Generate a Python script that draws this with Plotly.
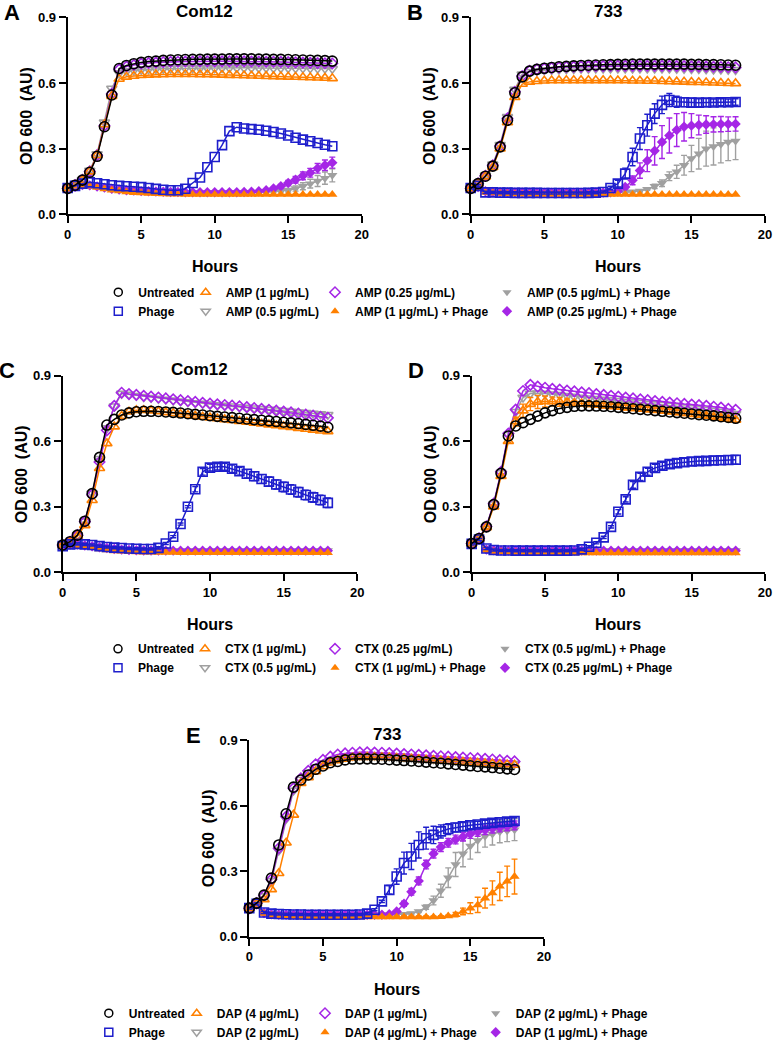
import plotly.graph_objects as go

# ---------------- data ----------------
T = [0, 0.5, 1, 1.5, 2, 2.5, 3, 3.5, 4, 4.5, 5, 5.5, 6, 6.5, 7, 7.5, 8, 8.5, 9,
     9.5, 10, 10.5, 11, 11.5, 12, 12.5, 13, 13.5, 14, 14.5, 15, 15.5, 16, 16.5, 17, 17.5, 18]
X_TICKS = [0, 5, 10, 15, 20]
Y_TICKS = [0, 0.3, 0.6, 0.9]
Y_TICK_LABELS = ["0.0", "0.3", "0.6", "0.9"]

PANEL_LETTERS = ["A", "B", "C", "D", "E"]
PANEL_TITLES = ["Com12", "733", "Com12", "733", "733"]
DRUGS = ["AMP", "AMP", "CTX", "CTX", "DAP"]
HIGH_DOSE = ["1", "1", "1", "1", "4"]
MID_DOSE = ["0.5", "0.5", "0.5", "0.5", "2"]
LOW_DOSE = ["0.25", "0.25", "0.25", "0.25", "1"]

# Panel A (Com12, AMP)
A_UNT = [0.118,0.133,0.156,0.192,0.265,0.400,0.545,0.666,0.680,
         0.688,0.694,0.698,0.700,0.703,0.705,0.706,0.707,0.708,
         0.708,0.709,0.709,0.709,0.710,0.710,0.710,0.710,0.709,
         0.709,0.708,0.708,0.707,0.706,0.705,0.704,0.703,0.702,0.700]
A_HIGH = [0.118,0.133,0.156,0.195,0.270,0.410,0.540,0.618,0.628,
          0.632,0.635,0.637,0.638,0.639,0.640,0.640,0.640,0.640,
          0.639,0.639,0.638,0.637,0.636,0.635,0.634,0.633,0.632,
          0.631,0.630,0.629,0.628,0.627,0.626,0.625,0.624,0.623,0.621]
A_MID = [0.118,0.134,0.158,0.200,0.275,0.420,0.575,0.645,0.654,
         0.658,0.661,0.663,0.664,0.665,0.666,0.667,0.667,0.668,
         0.668,0.668,0.668,0.669,0.669,0.669,0.669,0.669,0.669,
         0.669,0.668,0.668,0.668,0.667,0.667,0.667,0.666,0.666,0.665]
A_LOW = [0.118,0.133,0.157,0.196,0.270,0.405,0.550,0.662,0.675,
         0.682,0.688,0.691,0.693,0.695,0.696,0.697,0.698,0.698,
         0.699,0.699,0.699,0.699,0.699,0.699,0.699,0.698,0.698,
         0.697,0.697,0.696,0.695,0.694,0.693,0.692,0.691,0.690,0.689]
A_PHAGE = [0.120,0.130,0.140,0.146,0.142,0.137,0.133,0.130,0.128,
           0.126,0.124,0.120,0.116,0.112,0.110,0.110,0.117,0.143,
           0.168,0.215,0.262,0.316,0.380,0.398,0.392,0.389,0.386,
           0.382,0.376,0.369,0.360,0.350,0.341,0.334,0.326,0.318,0.311]
A_HIGHP = [0.118,0.125,0.130,0.128,0.122,0.116,0.110,0.106,0.102,
           0.099,0.097,0.095,0.094,0.093,0.092,0.092,0.091,0.091,
           0.091,0.090,0.090,0.090,0.090,0.090,0.090,0.090,0.090,
           0.090,0.090,0.090,0.090,0.090,0.090,0.090,0.090,0.090,0.090]
A_MIDP = [0.118,0.126,0.133,0.131,0.126,0.121,0.116,0.112,0.110,
          0.108,0.106,0.105,0.104,0.103,0.102,0.102,0.101,0.101,
          0.100,0.100,0.100,0.100,0.100,0.100,0.100,0.100,0.101,
          0.102,0.104,0.106,0.110,0.118,0.128,0.140,0.152,0.165,0.178]
A_LOWP = [0.118,0.126,0.134,0.132,0.127,0.122,0.117,0.113,0.110,
          0.108,0.106,0.105,0.104,0.103,0.102,0.102,0.101,0.101,
          0.101,0.101,0.101,0.101,0.101,0.101,0.102,0.103,0.105,
          0.110,0.118,0.128,0.143,0.158,0.176,0.190,0.210,0.224,0.236]
A_MIDP_SD = [0.004,0.004,0.004,0.004,0.004,0.004,0.004,0.004,0.004,
             0.004,0.004,0.004,0.004,0.004,0.004,0.004,0.004,0.004,
             0.004,0.004,0.004,0.004,0.004,0.004,0.004,0.004,0.004,
             0.004,0.004,0.004,0.008,0.012,0.016,0.020,0.025,0.028,0.030]
A_LOWP_SD = [0.004,0.004,0.004,0.004,0.004,0.004,0.004,0.004,0.004,
             0.004,0.004,0.004,0.004,0.004,0.004,0.004,0.004,0.004,
             0.004,0.004,0.004,0.004,0.004,0.004,0.004,0.004,0.004,
             0.004,0.004,0.008,0.012,0.015,0.018,0.020,0.022,0.024,0.025]

# Panel B (733, AMP)
B_UNT = [0.118,0.140,0.174,0.220,0.308,0.430,0.555,0.628,0.654,
         0.662,0.667,0.671,0.674,0.676,0.678,0.680,0.681,0.682,
         0.683,0.684,0.685,0.685,0.686,0.686,0.686,0.686,0.686,
         0.686,0.686,0.686,0.685,0.685,0.684,0.684,0.683,0.682,0.681]
B_HIGH = [0.118,0.140,0.172,0.215,0.300,0.420,0.535,0.595,0.605,
          0.608,0.610,0.611,0.612,0.612,0.612,0.612,0.612,0.612,
          0.612,0.612,0.611,0.611,0.610,0.610,0.609,0.609,0.608,
          0.607,0.606,0.605,0.604,0.603,0.602,0.601,0.600,0.599,0.598]
B_MID = [0.118,0.142,0.178,0.228,0.318,0.445,0.570,0.640,0.650,
         0.655,0.658,0.660,0.662,0.663,0.664,0.665,0.665,0.666,
         0.666,0.666,0.666,0.666,0.666,0.666,0.666,0.666,0.666,
         0.666,0.665,0.665,0.664,0.664,0.663,0.662,0.662,0.661,0.660]
B_LOW = [0.118,0.141,0.176,0.224,0.312,0.438,0.560,0.632,0.655,
         0.662,0.666,0.669,0.671,0.673,0.674,0.675,0.676,0.677,
         0.677,0.678,0.678,0.678,0.678,0.678,0.678,0.678,0.678,
         0.678,0.677,0.677,0.676,0.676,0.675,0.674,0.673,0.672,0.671]
B_PHAGE = [0.120,0.130,0.100,0.100,0.099,0.099,0.098,0.098,0.098,
           0.098,0.097,0.097,0.097,0.097,0.097,0.097,0.098,0.099,
           0.102,0.120,0.140,0.186,0.262,0.346,0.407,0.460,0.500,
           0.522,0.514,0.512,0.510,0.510,0.511,0.511,0.512,0.512,0.513]
B_HIGHP = [0.118,0.122,0.100,0.097,0.095,0.094,0.093,0.092,0.092,
           0.091,0.091,0.091,0.090,0.090,0.090,0.090,0.090,0.090,
           0.090,0.090,0.090,0.090,0.090,0.090,0.090,0.090,0.090,
           0.090,0.090,0.090,0.090,0.090,0.090,0.090,0.090,0.090,0.090]
B_MIDP = [0.118,0.125,0.105,0.102,0.101,0.100,0.100,0.100,0.099,
          0.099,0.099,0.099,0.099,0.099,0.099,0.099,0.099,0.099,
          0.099,0.099,0.100,0.101,0.103,0.107,0.115,0.128,0.142,
          0.174,0.194,0.224,0.255,0.277,0.300,0.310,0.320,0.330,0.335]
B_LOWP = [0.118,0.125,0.105,0.102,0.101,0.100,0.100,0.100,0.099,
          0.099,0.099,0.099,0.099,0.099,0.099,0.099,0.099,0.099,
          0.099,0.100,0.105,0.125,0.155,0.200,0.245,0.290,0.330,
          0.360,0.385,0.400,0.405,0.408,0.410,0.411,0.412,0.412,0.413]
B_PHAGE_SD = [0.005,0.005,0.005,0.005,0.005,0.005,0.005,0.005,0.005,
              0.005,0.005,0.005,0.005,0.005,0.005,0.005,0.005,0.005,
              0.005,0.008,0.015,0.025,0.040,0.050,0.050,0.045,0.040,
              0.030,0.025,0.020,0.020,0.018,0.018,0.016,0.016,0.015,0.015]
B_MIDP_SD = [0.005,0.005,0.005,0.005,0.005,0.005,0.005,0.005,0.005,
             0.005,0.005,0.005,0.005,0.005,0.005,0.005,0.005,0.005,
             0.005,0.005,0.005,0.005,0.005,0.005,0.005,0.010,0.015,
             0.020,0.030,0.045,0.060,0.070,0.080,0.085,0.085,0.085,0.085]
B_LOWP_SD = [0.005,0.005,0.005,0.005,0.005,0.005,0.005,0.005,0.005,
             0.005,0.005,0.005,0.005,0.005,0.005,0.005,0.005,0.005,
             0.005,0.005,0.005,0.010,0.020,0.035,0.050,0.065,0.075,
             0.080,0.075,0.065,0.055,0.045,0.040,0.035,0.035,0.033,0.033]

# Panel C (Com12, CTX)
C_UNT = [0.125,0.140,0.170,0.234,0.360,0.526,0.674,0.700,0.720,
         0.730,0.735,0.737,0.737,0.736,0.734,0.732,0.729,0.726,
         0.723,0.720,0.717,0.714,0.711,0.708,0.705,0.702,0.699,
         0.696,0.693,0.690,0.687,0.684,0.681,0.677,0.673,0.669,0.664]
C_HIGH = [0.125,0.138,0.165,0.215,0.330,0.476,0.590,0.667,0.715,
          0.735,0.742,0.742,0.740,0.736,0.732,0.728,0.724,0.720,
          0.716,0.712,0.708,0.704,0.700,0.696,0.692,0.688,0.684,
          0.680,0.676,0.672,0.668,0.664,0.660,0.656,0.652,0.648,0.645]
C_MID = [0.125,0.140,0.170,0.234,0.362,0.520,0.660,0.760,0.818,
         0.814,0.808,0.803,0.799,0.795,0.791,0.787,0.783,0.779,
         0.775,0.772,0.769,0.766,0.763,0.760,0.757,0.754,0.751,
         0.748,0.745,0.742,0.739,0.736,0.733,0.730,0.727,0.724,0.721]
C_LOW = [0.125,0.140,0.170,0.232,0.355,0.505,0.650,0.762,0.822,
         0.816,0.812,0.808,0.804,0.800,0.796,0.792,0.788,0.784,
         0.780,0.776,0.772,0.769,0.766,0.763,0.760,0.756,0.752,
         0.748,0.744,0.740,0.736,0.732,0.727,0.722,0.717,0.712,0.707]
C_PHAGE = [0.120,0.128,0.130,0.128,0.125,0.120,0.116,0.113,0.111,
           0.109,0.108,0.107,0.107,0.112,0.132,0.163,0.221,0.300,
           0.380,0.460,0.479,0.483,0.483,0.474,0.463,0.451,0.440,
           0.427,0.415,0.402,0.391,0.379,0.367,0.354,0.343,0.331,0.318]
C_HIGHP = [0.120,0.125,0.122,0.117,0.112,0.107,0.102,0.098,0.096,
           0.094,0.093,0.092,0.092,0.091,0.091,0.091,0.090,0.090,
           0.090,0.090,0.090,0.090,0.090,0.090,0.090,0.090,0.090,
           0.090,0.090,0.090,0.090,0.090,0.090,0.090,0.090,0.090,0.090]
C_MIDP = [0.120,0.128,0.128,0.124,0.120,0.116,0.112,0.108,0.105,
          0.103,0.102,0.101,0.101,0.100,0.100,0.100,0.100,0.100,
          0.100,0.100,0.100,0.100,0.100,0.100,0.100,0.100,0.100,
          0.100,0.100,0.100,0.100,0.100,0.100,0.100,0.100,0.100,0.100]
C_LOWP = [0.120,0.127,0.127,0.123,0.119,0.115,0.111,0.107,0.104,
          0.102,0.101,0.100,0.100,0.099,0.099,0.099,0.099,0.099,
          0.099,0.099,0.099,0.099,0.099,0.099,0.099,0.099,0.099,
          0.099,0.099,0.099,0.099,0.099,0.099,0.099,0.099,0.099,0.099]
C_PHAGE_SD = [0.005,0.005,0.005,0.005,0.005,0.005,0.005,0.005,0.005,
              0.005,0.005,0.005,0.005,0.005,0.005,0.005,0.005,0.005,
              0.012,0.015,0.015,0.015,0.016,0.017,0.018,0.019,0.020,
              0.020,0.021,0.021,0.022,0.022,0.022,0.022,0.022,0.022,0.022]

# Panel D (733, CTX)
D_UNT = [0.132,0.155,0.208,0.310,0.453,0.624,0.670,0.685,0.700,
         0.715,0.730,0.740,0.750,0.755,0.760,0.762,0.762,0.761,
         0.760,0.758,0.755,0.752,0.749,0.746,0.743,0.740,0.737,
         0.734,0.731,0.728,0.725,0.722,0.719,0.716,0.712,0.709,0.705]
D_HIGH = [0.132,0.153,0.205,0.300,0.440,0.600,0.690,0.740,0.770,
          0.780,0.782,0.782,0.780,0.778,0.775,0.772,0.769,0.766,
          0.763,0.760,0.757,0.754,0.751,0.748,0.745,0.742,0.739,
          0.736,0.732,0.728,0.724,0.720,0.716,0.712,0.707,0.702,0.697]
D_MID = [0.132,0.155,0.208,0.312,0.455,0.630,0.735,0.800,0.818,
         0.820,0.818,0.815,0.812,0.808,0.804,0.800,0.797,0.794,
         0.791,0.788,0.785,0.782,0.779,0.776,0.773,0.770,0.767,
         0.764,0.760,0.756,0.752,0.748,0.744,0.740,0.736,0.731,0.726]
D_LOW = [0.132,0.156,0.210,0.315,0.460,0.635,0.745,0.830,0.858,
         0.850,0.845,0.840,0.836,0.832,0.828,0.824,0.820,0.816,
         0.812,0.808,0.804,0.800,0.796,0.792,0.788,0.784,0.780,
         0.777,0.774,0.771,0.768,0.765,0.762,0.758,0.754,0.748,0.744]
D_PHAGE = [0.130,0.150,0.109,0.102,0.100,0.100,0.099,0.099,0.099,
           0.099,0.099,0.099,0.099,0.099,0.100,0.105,0.117,0.135,
           0.160,0.208,0.277,0.334,0.400,0.437,0.460,0.478,0.488,
           0.495,0.500,0.504,0.507,0.509,0.510,0.512,0.513,0.514,0.515]
D_HIGHP = [0.132,0.148,0.100,0.095,0.093,0.092,0.091,0.090,0.090,
           0.089,0.089,0.089,0.089,0.088,0.088,0.088,0.088,0.088,
           0.088,0.088,0.088,0.088,0.088,0.088,0.088,0.088,0.088,
           0.088,0.088,0.088,0.088,0.088,0.088,0.088,0.088,0.088,0.088]
D_MIDP = [0.132,0.150,0.105,0.102,0.101,0.100,0.100,0.100,0.100,
          0.100,0.100,0.100,0.100,0.100,0.100,0.100,0.100,0.100,
          0.100,0.100,0.100,0.100,0.100,0.100,0.100,0.100,0.100,
          0.100,0.100,0.100,0.100,0.100,0.100,0.100,0.100,0.100,0.100]
D_LOWP = [0.132,0.150,0.104,0.101,0.100,0.099,0.099,0.099,0.099,
          0.099,0.099,0.099,0.099,0.099,0.099,0.099,0.099,0.099,
          0.099,0.099,0.099,0.099,0.099,0.099,0.099,0.099,0.099,
          0.099,0.099,0.099,0.099,0.099,0.099,0.099,0.099,0.099,0.099]
D_PHAGE_SD = [0.005,0.005,0.005,0.005,0.005,0.005,0.005,0.005,0.005,
              0.005,0.005,0.005,0.005,0.005,0.005,0.005,0.005,0.005,
              0.005,0.005,0.010,0.012,0.015,0.016,0.016,0.016,0.016,
              0.017,0.017,0.018,0.018,0.018,0.018,0.019,0.019,0.020,0.020]
D_HIGH_SD = [0.005,0.005,0.005,0.005,0.005,0.005,0.020,0.030,0.030,
             0.030,0.025,0.020,0.020,0.015,0.010,0.010,0.010,0.010,
             0.010,0.010,0.010,0.010,0.010,0.010,0.010,0.010,0.010,
             0.010,0.010,0.010,0.010,0.010,0.010,0.010,0.010,0.010,0.010]

# Panel E (733, DAP)
E_UNT = [0.130,0.153,0.190,0.268,0.420,0.563,0.685,0.718,0.741,
         0.767,0.782,0.797,0.803,0.810,0.814,0.815,0.815,0.814,
         0.813,0.811,0.809,0.807,0.805,0.803,0.800,0.797,0.795,
         0.792,0.789,0.786,0.783,0.780,0.778,0.775,0.772,0.769,0.766]
E_HIGH = [0.130,0.150,0.170,0.216,0.290,0.430,0.558,0.703,0.730,
          0.757,0.780,0.797,0.808,0.815,0.820,0.822,0.823,0.823,
          0.822,0.821,0.819,0.817,0.815,0.813,0.811,0.809,0.807,
          0.805,0.803,0.801,0.799,0.797,0.795,0.793,0.791,0.789,0.787]
E_MID = [0.130,0.152,0.185,0.255,0.395,0.540,0.670,0.720,0.750,
         0.775,0.795,0.808,0.818,0.824,0.828,0.830,0.830,0.829,
         0.828,0.826,0.824,0.822,0.820,0.818,0.816,0.814,0.812,
         0.810,0.808,0.806,0.804,0.802,0.800,0.798,0.796,0.794,0.792]
E_LOW = [0.130,0.153,0.188,0.262,0.405,0.550,0.680,0.725,0.760,
         0.790,0.810,0.825,0.835,0.840,0.843,0.845,0.845,0.844,
         0.843,0.841,0.839,0.837,0.835,0.833,0.831,0.829,0.827,
         0.825,0.823,0.821,0.819,0.817,0.815,0.812,0.809,0.806,0.803]
E_PHAGE = [0.130,0.150,0.110,0.105,0.103,0.102,0.101,0.101,0.100,
           0.100,0.100,0.100,0.100,0.100,0.100,0.101,0.105,0.123,
           0.161,0.214,0.275,0.337,0.367,0.420,0.451,0.466,0.482,
           0.493,0.500,0.505,0.510,0.514,0.518,0.521,0.524,0.527,0.530]
E_HIGHP = [0.130,0.140,0.105,0.097,0.094,0.092,0.091,0.090,0.090,
           0.090,0.090,0.090,0.090,0.090,0.090,0.090,0.090,0.090,
           0.090,0.090,0.090,0.090,0.090,0.090,0.090,0.090,0.091,
           0.094,0.100,0.115,0.130,0.145,0.176,0.200,0.230,0.253,0.275]
E_MIDP = [0.130,0.148,0.108,0.102,0.100,0.100,0.100,0.100,0.100,
          0.100,0.100,0.100,0.100,0.100,0.100,0.100,0.100,0.100,
          0.100,0.100,0.100,0.102,0.105,0.115,0.135,0.165,0.210,
          0.270,0.330,0.380,0.415,0.440,0.460,0.470,0.480,0.485,0.490]
E_LOWP = [0.130,0.148,0.108,0.102,0.100,0.100,0.100,0.100,0.100,
          0.100,0.100,0.100,0.100,0.100,0.100,0.100,0.100,0.100,
          0.100,0.102,0.115,0.150,0.205,0.255,0.330,0.380,0.410,
          0.430,0.445,0.458,0.470,0.480,0.488,0.495,0.500,0.505,0.510]
E_PHAGE_SD = [0.005,0.005,0.005,0.005,0.005,0.005,0.005,0.005,0.005,
              0.005,0.005,0.005,0.005,0.005,0.005,0.005,0.005,0.005,
              0.005,0.020,0.035,0.050,0.060,0.060,0.050,0.040,0.030,
              0.025,0.020,0.018,0.016,0.015,0.015,0.015,0.015,0.015,0.015]
E_HIGHP_SD = [0.004,0.004,0.004,0.004,0.004,0.004,0.004,0.004,0.004,
              0.004,0.004,0.004,0.004,0.004,0.004,0.004,0.004,0.004,
              0.004,0.004,0.004,0.004,0.004,0.004,0.004,0.004,0.004,
              0.004,0.010,0.015,0.025,0.035,0.045,0.055,0.065,0.070,0.080]
E_MIDP_SD = [0.005,0.005,0.005,0.005,0.005,0.005,0.005,0.005,0.005,
             0.005,0.005,0.005,0.005,0.005,0.005,0.005,0.005,0.005,
             0.005,0.005,0.005,0.005,0.005,0.005,0.010,0.020,0.030,
             0.045,0.055,0.060,0.060,0.055,0.050,0.050,0.050,0.050,0.050]
E_LOWP_SD = [0.005,0.005,0.005,0.005,0.005,0.005,0.005,0.005,0.005,
             0.005,0.005,0.005,0.005,0.005,0.005,0.005,0.005,0.005,
             0.005,0.005,0.005,0.012,0.015,0.018,0.020,0.020,0.020,
             0.020,0.020,0.020,0.020,0.020,0.020,0.020,0.020,0.020,0.020]

PANELS = [
    dict(unt=A_UNT, phage=A_PHAGE, high=A_HIGH, mid=A_MID, low=A_LOW,
         highp=A_HIGHP, midp=A_MIDP, lowp=A_LOWP),
    dict(unt=B_UNT, phage=B_PHAGE, high=B_HIGH, mid=B_MID, low=B_LOW,
         highp=B_HIGHP, midp=B_MIDP, lowp=B_LOWP),
    dict(unt=C_UNT, phage=C_PHAGE, high=C_HIGH, mid=C_MID, low=C_LOW,
         highp=C_HIGHP, midp=C_MIDP, lowp=C_LOWP),
    dict(unt=D_UNT, phage=D_PHAGE, high=D_HIGH, mid=D_MID, low=D_LOW,
         highp=D_HIGHP, midp=D_MIDP, lowp=D_LOWP),
    dict(unt=E_UNT, phage=E_PHAGE, high=E_HIGH, mid=E_MID, low=E_LOW,
         highp=E_HIGHP, midp=E_MIDP, lowp=E_LOWP),
]
ERRORS = [
    dict(midp=A_MIDP_SD, lowp=A_LOWP_SD),
    dict(phage=B_PHAGE_SD, midp=B_MIDP_SD, lowp=B_LOWP_SD),
    dict(phage=C_PHAGE_SD),
    dict(phage=D_PHAGE_SD, high=D_HIGH_SD),
    dict(phage=E_PHAGE_SD, highp=E_HIGHP_SD, midp=E_MIDP_SD, lowp=E_LOWP_SD),
]

# ---------------- styling ----------------
W, H = 776, 1042
FONT = "Liberation Sans, Arial, sans-serif"
BLACK, BLUE, ORANGE, GRAY, PURPLE = "#000000", "#1E1ECC", "#FF8000", "#A0A0A0", "#A526E6"
STYLE = {
    "unt":   dict(color=BLACK, symbol="circle-open", size=10),
    "phage": dict(color=BLUE, symbol="square-open", size=9),
    "high":  dict(color=ORANGE, symbol="triangle-up-open", size=9),
    "mid":   dict(color=GRAY, symbol="triangle-down-open", size=9),
    "low":   dict(color=PURPLE, symbol="diamond-open", size=8),
    "highp": dict(color=ORANGE, symbol="triangle-up", size=9),
    "midp":  dict(color=GRAY, symbol="triangle-down", size=9),
    "lowp":  dict(color=PURPLE, symbol="diamond", size=8),
}
DRAW_ORDER = ["midp", "lowp", "highp", "mid", "low", "high", "phage", "unt"]
LEGEND_ORDER = ["unt", "phage", "high", "mid", "low", "highp", "midp", "lowp"]
LEGEND_COL = {"unt": (0, 1), "phage": (0, 2), "high": (1, 1), "mid": (1, 2),
              "low": (2, 1), "highp": (2, 2), "midp": (3, 1), "lowp": (3, 2)}
# panel boxes in window pixels: left, right, top, bottom
BOX = [(67.7, 361.7, 17.3, 214.3), (470.7, 765.0, 17.3, 214.3),
       (62.7, 357.3, 375.7, 572.3), (471.7, 765.0, 375.7, 572.3),
       (249.3, 544.0, 740.3, 936.5)]
# legend block per figure row: (panel owning legend, text start px per column, first-row y px)
LEGEND_ROWS = [(0, [133.3, 220.7, 350.0, 522.0], 291.7),
               (2, [133.0, 220.0, 350.0, 520.0], 648.3),
               (4, [123.8, 211.7, 340.0, 510.7], 1012.7)]


def fx(px):
    return px / W


def fy(py):
    return 1 - py / H


def series_name(key, p):
    if key == "unt":
        return "Untreated"
    if key == "phage":
        return "Phage"
    dose = {"high": HIGH_DOSE, "mid": MID_DOSE, "low": LOW_DOSE,
            "highp": HIGH_DOSE, "midp": MID_DOSE, "lowp": LOW_DOSE}[key][p]
    name = f"{DRUGS[p]} ({dose} µg/mL)"
    if key in ("highp", "midp", "lowp"):
        name += " + Phage"
    return name


fig = go.Figure()

for p in range(5):
    ax = "" if p == 0 else str(p + 1)
    for key in DRAW_ORDER:
        st = STYLE[key]
        filled = not st["symbol"].endswith("open")
        err = ERRORS[p].get(key)
        tr = dict(
            x=T, y=PANELS[p][key], mode="lines+markers",
            name=series_name(key, p),
            xaxis="x" + ax, yaxis="y" + ax,
            line=dict(color=st["color"], width=1.5),
            marker=dict(symbol=st["symbol"], size=st["size"], color=st["color"],
                        line=dict(color=st["color"], width=0 if filled else 1.6)),
            cliponaxis=False, showlegend=False,
        )
        if err is not None:
            tr["error_y"] = dict(type="data", array=err, visible=True,
                                 color=st["color"], thickness=1.4, width=3)
        fig.add_trace(go.Scatter(**tr))

# legend entries (marker keys only, 4 columns x 2 rows per figure row)
for li, (p, cols, y0) in enumerate(LEGEND_ROWS):
    ax = "" if p == 0 else str(p + 1)
    for key in LEGEND_ORDER:
        st = STYLE[key]
        col, rank = LEGEND_COL[key]
        idx = li * 4 + col + 1
        filled = not st["symbol"].endswith("open")
        fig.add_trace(go.Scatter(
            x=[None], y=[None], mode="markers", name=series_name(key, p),
            xaxis="x" + ax, yaxis="y" + ax,
            marker=dict(symbol=st["symbol"], size=8, color=st["color"],
                        line=dict(color=st["color"], width=0 if filled else 1.5)),
            legend="legend" if idx == 1 else f"legend{idx}", legendrank=rank,
            showlegend=True,
        ))

layout = dict(
    width=W, height=H, margin=dict(l=0, r=0, t=0, b=0, autoexpand=False),
    paper_bgcolor="white", plot_bgcolor="white",
    font=dict(family=FONT, color="black", weight="bold"),
    annotations=[],
)
axis_common = dict(showline=True, linewidth=2, linecolor="black", ticks="outside",
                   ticklen=7, tickwidth=2, tickcolor="black", showgrid=False, zeroline=False,
                   tickfont=dict(family=FONT, size=13, color="black", weight="bold"))
for p in range(5):
    l, r, t, b = BOX[p]
    ax = "" if p == 0 else str(p + 1)
    layout["xaxis" + ax] = dict(axis_common, domain=[fx(l), fx(r)], range=[0, 20],
                                tickvals=X_TICKS, anchor="y" + ax)
    layout["yaxis" + ax] = dict(axis_common, domain=[fy(b), fy(t)], range=[0, 0.9],
                                tickvals=Y_TICKS, ticktext=Y_TICK_LABELS, anchor="x" + ax)
    cx = (l + r) / 2
    cy = (t + b) / 2
    ann = layout["annotations"]
    ann.append(dict(text=PANEL_LETTERS[p], x=fx(l - 56), y=fy(t - 5), xref="paper", yref="paper",
                    showarrow=False, xanchor="center", yanchor="middle",
                    font=dict(family=FONT, size=22, weight="bold")))
    ann.append(dict(text=PANEL_TITLES[p], x=fx(cx - 10), y=fy(t - 6), xref="paper", yref="paper",
                    showarrow=False, xanchor="center", yanchor="middle",
                    font=dict(family=FONT, size=17, weight="bold")))
    ann.append(dict(text="Hours", x=fx(cx), y=fy(b + 52.5), xref="paper", yref="paper",
                    showarrow=False, xanchor="center", yanchor="middle",
                    font=dict(family=FONT, size=16, weight="bold")))
    ann.append(dict(text="OD 600  (AU)", x=fx(l - 40.5), y=fy(cy), xref="paper", yref="paper",
                    showarrow=False, xanchor="center", yanchor="middle", textangle=-90,
                    font=dict(family=FONT, size=16, weight="bold")))

for li, (p, cols, y0) in enumerate(LEGEND_ROWS):
    for c, xt in enumerate(cols):
        idx = li * 4 + c + 1
        name = "legend" if idx == 1 else f"legend{idx}"
        layout[name] = dict(x=fx(xt - 35), y=fy(y0 - 14), xanchor="left", yanchor="top",
                            orientation="v", bgcolor="rgba(0,0,0,0)", borderwidth=0,
                            itemwidth=30, tracegroupgap=0, traceorder="normal",
                            font=dict(family=FONT, size=12, color="black", weight="bold"))

fig.update_layout(**layout)
# remove the default 8px page margin so the figure fills the window exactly; no modebar
fig.write_html("out.html", config={"displayModeBar": False},
               post_script="document.body.style.margin='0px';")
